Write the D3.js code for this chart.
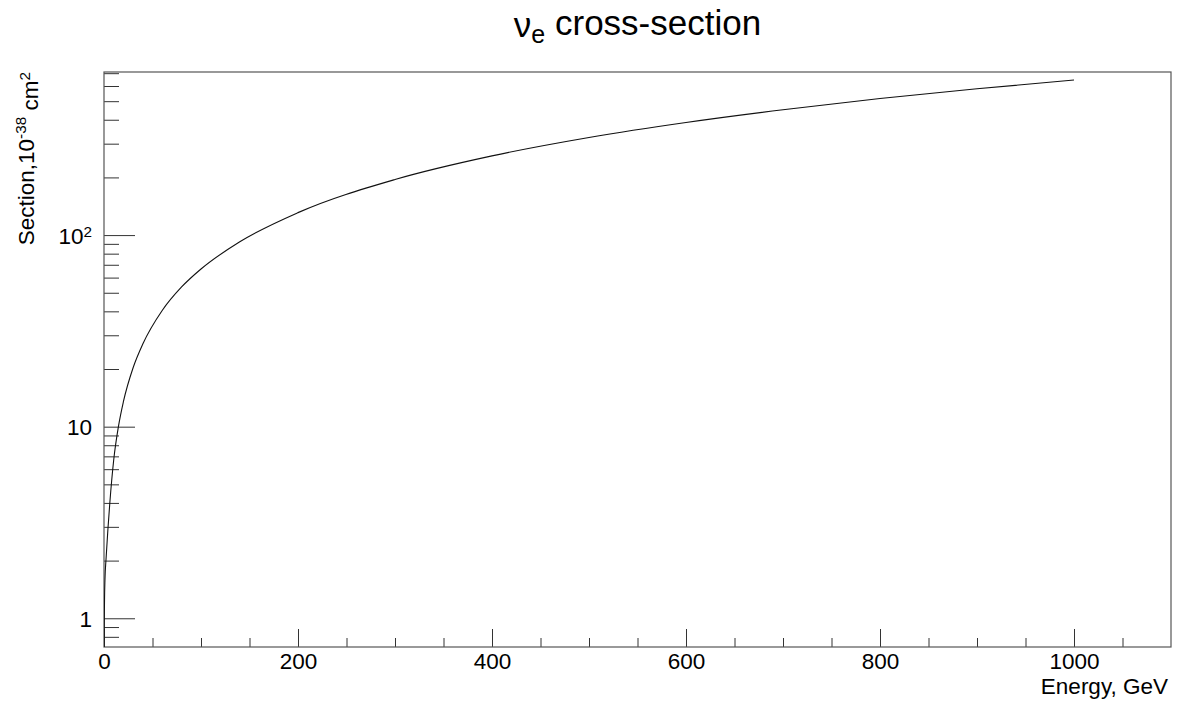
<!DOCTYPE html>
<html>
<head>
<meta charset="utf-8">
<script src="https://cdn.jsdelivr.net/npm/d3@7"></script>
<style>
  html, body { margin: 0; padding: 0; background: #fff; }
  svg { display: block; }
  text { font-family: "Liberation Sans", Arial, Helvetica, sans-serif; fill: #000; }
</style>
</head>
<body>
<svg id="chart" width="1184" height="706"></svg>
<script>
// Electron-neutrino cross-section vs energy (units of 1e-38 cm^2)
const energyGeV = [0.05, 0.2, 0.5, 1, 2, 4, 6, 10, 15, 20, 30, 40, 60, 80, 100, 140, 200, 300, 400, 500, 600, 700, 800, 900, 1000];
const sectionVal = [0.45, 0.8, 1.2, 1.6, 2.0, 2.9, 4.0, 6.7, 10.1, 13.5, 20.3, 27.0, 40.4, 53.6, 66.5, 92.3, 131, 195, 259, 323, 387, 451, 516, 580, 645];

const xMajorTicks = [0, 200, 400, 600, 800, 1000];
const xMinorTicks = [50, 100, 150, 250, 300, 350, 450, 500, 550, 650, 700, 750, 850, 900, 950, 1050];
const yMajorTicks = [1, 10, 100];
const yMajorLabels = [["1", ""], ["10", ""], ["10", "2"]];
const yMinorTicks = [0.8, 0.9, 2, 3, 4, 5, 6, 7, 8, 9, 20, 30, 40, 50, 60, 70, 80, 90, 200, 300, 400, 500, 600, 700];

const xDomain = [0, 1100];
const yDomain = [0.708, 710];

const frame = { left: 104, right: 1171, top: 72, bottom: 647 };
const svg = d3.select("#chart");

const x = d3.scaleLinear().domain(xDomain).range([frame.left, frame.right]);
const y = d3.scaleLog().domain(yDomain).range([frame.bottom, frame.top]);

const FS = 22.5;

// clip region for the curve
svg.append("defs").append("clipPath").attr("id", "plotclip")
  .append("rect")
  .attr("x", frame.left).attr("y", frame.top)
  .attr("width", frame.right - frame.left).attr("height", frame.bottom - frame.top);

// x axis: major and minor ticks pointing into the frame
const xMinor = d3.axisBottom(x).tickValues(xMinorTicks).tickSize(-9).tickFormat("");
const xMajor = d3.axisBottom(x).tickValues(xMajorTicks).tickSize(-18).tickPadding(6).tickFormat(d3.format("d"));

svg.append("g").attr("transform", `translate(0,${frame.bottom})`).call(xMinor)
  .call(g => g.select(".domain").remove());
const gx = svg.append("g").attr("transform", `translate(0,${frame.bottom})`).call(xMajor);
gx.select(".domain").remove();
gx.selectAll(".tick text").attr("font-size", FS).attr("font-family", null);

// y axis: log ticks
const yMinor = d3.axisLeft(y).tickValues(yMinorTicks).tickSize(-15).tickFormat("");
const yMajor = d3.axisLeft(y).tickValues(yMajorTicks).tickSize(-31).tickPadding(12).tickFormat("");

svg.append("g").attr("transform", `translate(${frame.left},0)`).call(yMinor)
  .call(g => g.select(".domain").remove());
const gy = svg.append("g").attr("transform", `translate(${frame.left},0)`).call(yMajor);
gy.select(".domain").remove();
gy.selectAll(".tick text").each(function(d, i) {
  const t = d3.select(this).attr("font-size", FS).attr("font-family", null).attr("dy", "0.36em");
  const [base, sup] = yMajorLabels[i];
  t.text(null);
  t.append("tspan").text(base);
  if (sup) {
    t.append("tspan").attr("dy", "-0.45em").attr("font-size", FS * 0.68).text(sup);
  }
});

svg.selectAll(".tick line").attr("stroke", "#333").attr("stroke-width", 1);

// frame
svg.append("rect")
  .attr("x", frame.left).attr("y", frame.top)
  .attr("width", frame.right - frame.left).attr("height", frame.bottom - frame.top)
  .attr("fill", "none").attr("stroke", "#555").attr("stroke-width", 1.2);

// curve
const pts = energyGeV.map((e, i) => [e, sectionVal[i]]);
const line = d3.line()
  .x(d => x(d[0]))
  .y(d => y(d[1]))
  .curve(d3.curveMonotoneX);

svg.append("path")
  .datum(pts)
  .attr("clip-path", "url(#plotclip)")
  .attr("d", line)
  .attr("fill", "none")
  .attr("stroke", "#111")
  .attr("stroke-width", 1.1);

// title
const title = svg.append("text")
  .attr("x", (frame.left + frame.right) / 2)
  .attr("y", 37)
  .attr("text-anchor", "middle")
  .attr("font-size", 35);
title.append("tspan").text("\u03BD");
title.append("tspan").attr("dy", "0.25em").attr("font-size", 25).text("e");
title.append("tspan").attr("dy", "-0.25em").text(" cross-section");

// x axis title
svg.append("text")
  .attr("x", 1168)
  .attr("y", 694)
  .attr("text-anchor", "end")
  .attr("font-size", FS)
  .text("Energy, GeV");

// y axis title
const yt = svg.append("text")
  .attr("transform", `translate(34,${frame.top}) rotate(-90)`)
  .attr("text-anchor", "end")
  .attr("font-size", FS);
yt.append("tspan").text("Section,10");
yt.append("tspan").attr("dy", "-0.5em").attr("font-size", FS * 0.68).text("-38");
yt.append("tspan").attr("dy", "0.5em").text(" cm");
yt.append("tspan").attr("dy", "-0.5em").attr("font-size", FS * 0.68).text("2");
</script>
</body>
</html>
